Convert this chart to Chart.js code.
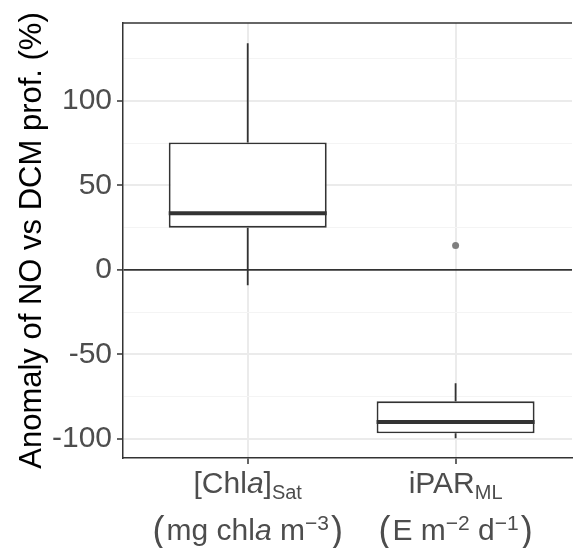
<!DOCTYPE html>
<html>
<head>
<meta charset="utf-8">
<script src="https://cdn.jsdelivr.net/npm/chart.js@4.4.0/dist/chart.umd.min.js"></script>
<style>
  html, body { margin: 0; padding: 0; background: #fff; }
  #chart { display: block; }
</style>
</head>
<body>
<canvas id="chart" width="576" height="548"></canvas>
<script>
// box statistics (%)
const categories = [1, 2];
const whiskerLow = [-9, -99.5];
const q1 = [25, -96.6];
const median = [33.5, -89.9];
const q3 = [75.4, -77.7];
const whiskerHigh = [134, -67];
const outliers = [{ x: 2, y: 14.5 }];

const yTicks = [-100, -50, 0, 50, 100];
const yMinorTicks = [-75, -25, 25, 75, 125];
const yRange = [-111.2, 146];
const xRange = [0.4, 2.56];

const yTitle = 'Anomaly of NO vs DCM prof. (%)';
// x labels as rich text: italic / subscript / superscript / big bracket pieces
const xLabels = [
    [
        [{ t: '[Chl' }, { t: 'a', it: true }, { t: ']' }, { t: 'Sat', sub: true }],
        [{ t: '(', big: true }, { t: 'mg chl' }, { t: 'a', it: true }, { t: ' m' }, { t: '\u22123', sup: true }, { t: ')', big: true }]
    ],
    [
        [{ t: 'iPAR' }, { t: 'ML', sub: true }],
        [{ t: '(', big: true }, { t: 'E m' }, { t: '\u22122', sup: true }, { t: ' d' }, { t: '\u22121', sup: true }, { t: ')', big: true }]
    ]
];

const FONT = '"Liberation Sans", Arial, sans-serif';
const DARK = '#333333';

function drawRich(ctx, parts, cx, baseline, size, smallSize) {
    const sizeFor = p => p.sub || p.sup ? smallSize : p.big ? size * 1.2 : size;
    const fontFor = p => (p.it ? 'italic ' : '') + sizeFor(p) + 'px ' + FONT;
    const widths = parts.map(p => { ctx.font = fontFor(p); return ctx.measureText(p.t).width + (p.big ? 2 : 0); });
    let xPos = cx - widths.reduce((a, b) => a + b, 0) / 2;
    parts.forEach((p, i) => {
        ctx.font = fontFor(p);
        const dy = p.sub ? 6 : p.sup ? -10 : p.big ? 2 : 0;
        ctx.fillText(p.t, xPos + (p.big && p.t === ')' ? 2 : 0), baseline + dy);
        xPos += widths[i];
    });
}

const boxPlugin = {
    id: 'boxWhiskers',
    afterDatasetsDraw(chart) {
        const { ctx, chartArea, scales: { x, y } } = chart;
        const meta = chart.getDatasetMeta(0);
        ctx.save();
        ctx.strokeStyle = DARK;
        meta.data.forEach((bar, i) => {
            const cx = x.getPixelForValue(categories[i]);
            // whiskers
            ctx.lineWidth = 1.8;
            ctx.beginPath();
            ctx.moveTo(cx, y.getPixelForValue(q3[i]));
            ctx.lineTo(cx, y.getPixelForValue(whiskerHigh[i]));
            ctx.moveTo(cx, y.getPixelForValue(q1[i]));
            ctx.lineTo(cx, y.getPixelForValue(whiskerLow[i]));
            ctx.stroke();
            // median
            const half = bar.width / 2;
            const my = y.getPixelForValue(median[i]);
            ctx.lineWidth = 4;
            ctx.beginPath();
            ctx.moveTo(cx - half, my);
            ctx.lineTo(cx + half, my);
            ctx.stroke();
        });
        // top of the panel border
        ctx.lineWidth = 1.5;
        ctx.beginPath();
        ctx.moveTo(chartArea.left, chartArea.top);
        ctx.lineTo(chartArea.right, chartArea.top);
        ctx.stroke();
        ctx.restore();
    },
    afterDraw(chart) {
        const { ctx, scales: { x } } = chart;
        ctx.save();
        ctx.fillStyle = '#4d4d4d';
        ctx.textBaseline = 'alphabetic';
        ctx.textAlign = 'left';
        xLabels.forEach((lines, i) => {
            const cx = x.getPixelForValue(categories[i]);
            drawRich(ctx, lines[0], cx, 493, 30, 20);
            drawRich(ctx, lines[1], cx, 540, 30, 21);
        });
        ctx.restore();
    }
};

new Chart(document.getElementById('chart'), {
    type: 'bar',
    data: {
        datasets: [{
            type: 'bar',
            data: categories.map((c, i) => ({ x: c, y: [q1[i], q3[i]] })),
            backgroundColor: '#ffffff',
            borderColor: DARK,
            borderWidth: 1.9,
            borderSkipped: false,
            barPercentage: 0.76,
            categoryPercentage: 1
        }, {
            type: 'scatter',
            data: outliers,
            pointRadius: 3.5,
            pointBackgroundColor: '#7f7f7f',
            pointBorderWidth: 0
        }]
    },
    options: {
        responsive: false,
        animation: false,
        devicePixelRatio: 1,
        layout: { padding: { top: 22, right: 0, left: 0, bottom: 0 } },
        plugins: {
            legend: { display: false },
            tooltip: { enabled: false }
        },
        scales: {
            x: {
                type: 'linear',
                offset: false,
                min: xRange[0],
                max: xRange[1],
                afterBuildTicks: s => { s.ticks = categories.map(v => ({ value: v })); },
                afterFit: s => { s.height = 90; },
                ticks: { display: false },
                grid: { offset: false, color: '#ebebeb', lineWidth: 2, tickColor: DARK, tickLength: 6, tickWidth: 1.5 },
                border: { color: DARK, width: 1.5 }
            },
            y: {
                min: yRange[0],
                max: yRange[1],
                afterBuildTicks: s => {
                    s.ticks = yTicks.concat(yMinorTicks).sort((a, b) => a - b).map(v => ({ value: v }));
                },
                afterFit: s => { s.width = 123; },
                ticks: {
                    autoSkip: false,
                    callback: v => yTicks.includes(v) ? String(v) : '',
                    color: '#4d4d4d',
                    font: { family: FONT, size: 30 },
                    padding: 5
                },
                grid: {
                    color: c => c.tick.value === 0 ? DARK : (yTicks.includes(c.tick.value) ? '#ebebeb' : '#f4f4f4'),
                    lineWidth: c => c.tick.value === 0 ? 1.8 : (yTicks.includes(c.tick.value) ? 2 : 1),
                    tickColor: c => yTicks.includes(c.tick.value) ? DARK : 'rgba(0,0,0,0)',
                    tickLength: 6,
                    tickWidth: 1.5
                },
                border: { color: DARK, width: 1.5 },
                title: {
                    display: true,
                    text: yTitle,
                    color: '#000000',
                    font: { family: FONT, size: 31 },
                    padding: { top: 14, bottom: 0 }
                }
            }
        }
    },
    plugins: [boxPlugin]
});
</script>
</body>
</html>
